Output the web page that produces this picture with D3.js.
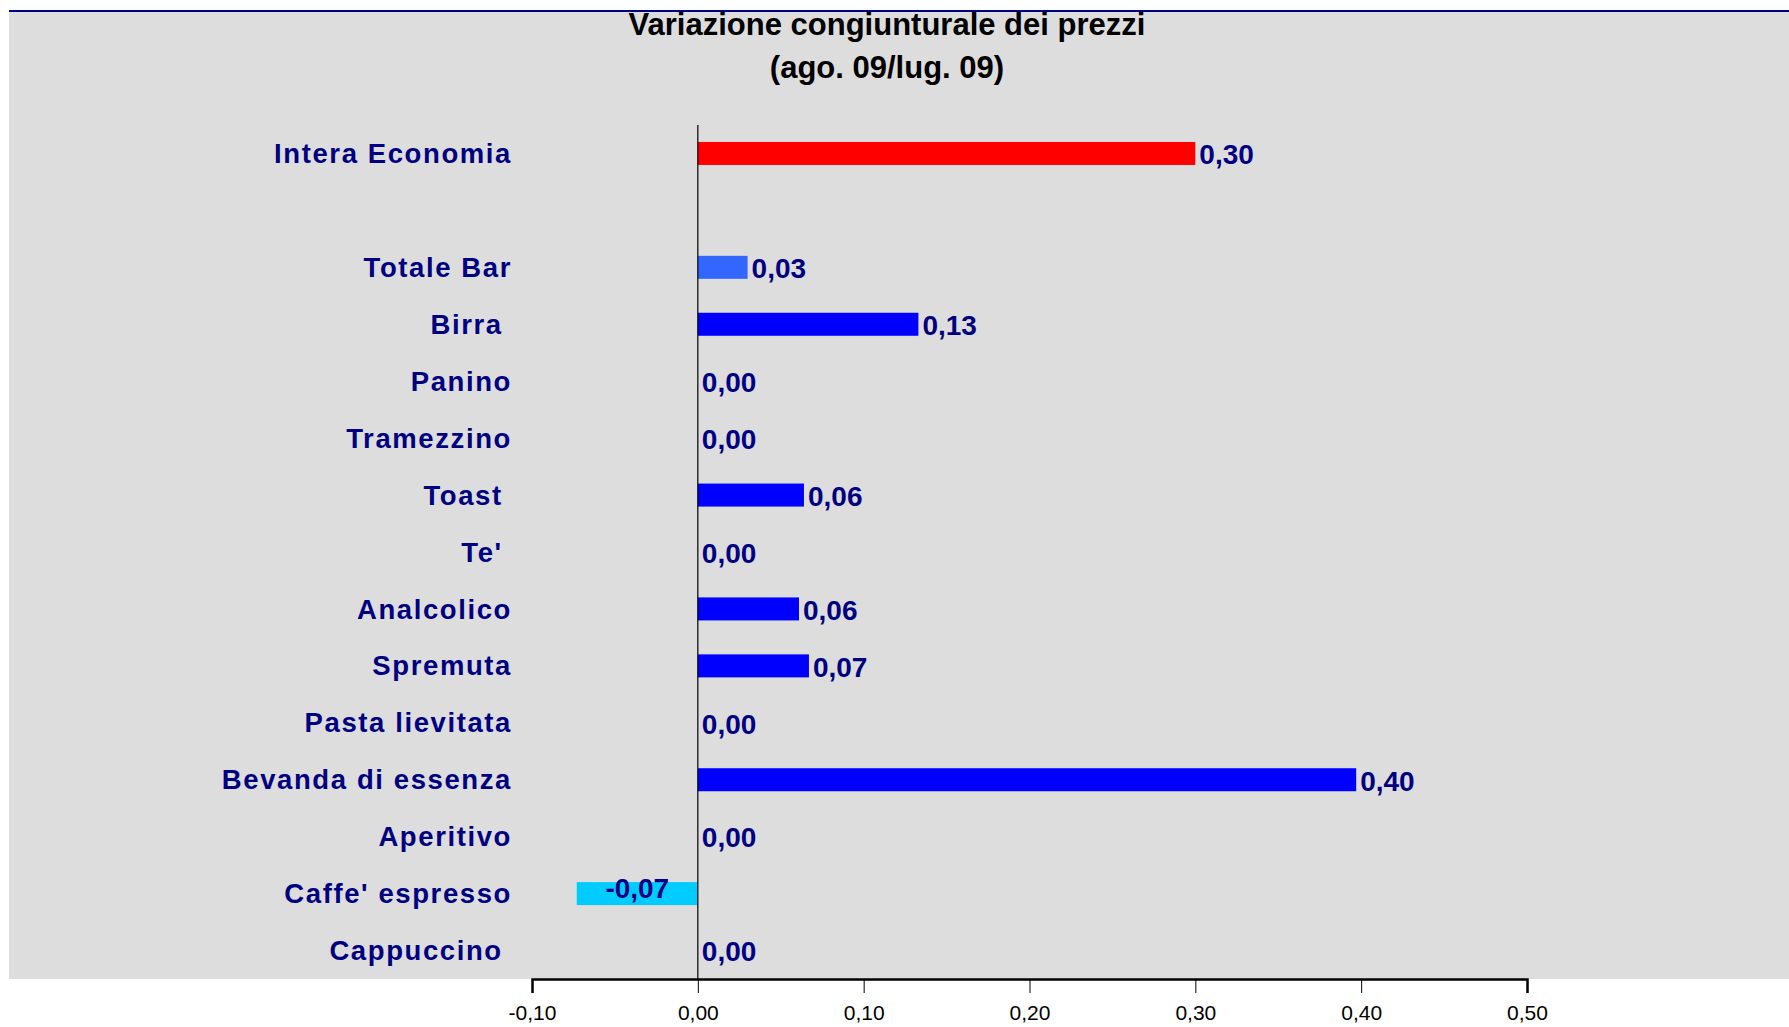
<!DOCTYPE html>
<html lang="it">
<head>
<meta charset="UTF-8">
<title>Variazione congiunturale dei prezzi</title>
<style>
  body { margin: 0; background: #fff; }
  svg { display: block; font-family: "Liberation Sans", Arial, sans-serif; }
  .cat { fill: #000080; font-weight: bold; font-size: 27.5px; letter-spacing: 1.6px; white-space: pre; }
  .val { fill: #000080; font-weight: bold; font-size: 28px; }
  .title { fill: #000; font-weight: bold; font-size: 31px; }
  .axis text { font-family: "Liberation Sans", Arial, sans-serif; font-size: 21px; fill: #000; }
</style>
</head>
<body>
<svg width="1789" height="1027"></svg>
<script src="https://d3js.org/d3.v7.min.js"></script>
<script>
// categories from top to bottom ("" is the empty slot under Intera Economia)
const categories = ["Intera Economia", "", "Totale Bar", "Birra ", "Panino", "Tramezzino", "Toast ",
  "Te' ", "Analcolico", "Spremuta", "Pasta lievitata", "Bevanda di essenza", "Aperitivo",
  "Caffe' espresso", "Cappuccino "];
const values = [0.30, null, 0.03, 0.133, 0, 0, 0.064, 0, 0.061, 0.067, 0, 0.397, 0, -0.073, 0];
const barColors = ["#ff0000", null, "#3366ff", "#0000ff", "#0000ff", "#0000ff", "#0000ff",
  "#0000ff", "#0000ff", "#0000ff", "#0000ff", "#0000ff", "#0000ff", "#00ccff", "#0000ff"];
const xTicks = [-0.1, 0, 0.1, 0.2, 0.3, 0.4, 0.5];
const titleLines = ["Variazione congiunturale dei prezzi", "(ago. 09/lug. 09)"];

const svg = d3.select("svg");
const fmt = v => d3.format(".2f")(v).replace(".", ",").replace("−", "-");

const x = d3.scaleLinear().domain([-0.1, 0.5]).range([532, 1527]);
const y = d3.scaleBand().domain(d3.range(categories.length)).range([125, 979]).paddingInner(0).paddingOuter(0);
const barH = 23;

// background
svg.append("rect").attr("x", 9).attr("y", 11).attr("width", 1780).attr("height", 968).attr("fill", "#dddddd");

// title
svg.selectAll(".title").data(titleLines).enter().append("text")
  .attr("class", "title")
  .attr("x", 887)
  .attr("y", (d, i) => 35 + i * 43)
  .attr("text-anchor", "middle")
  .text(d => d);

svg.append("line").attr("x1", 9).attr("x2", 1789).attr("y1", 11).attr("y2", 11)
  .attr("stroke", "#000080").attr("stroke-width", 2);

const rows = categories.map((c, i) => ({ cat: c, v: values[i], color: barColors[i], i }));

// category labels
svg.selectAll(".cat").data(rows.filter(d => d.cat !== "")).enter().append("text")
  .attr("class", "cat")
  .attr("x", 512)
  .attr("y", d => y(d.i) + y.bandwidth() / 2)
  .attr("dy", "0.35em")
  .attr("text-anchor", "end")
  .text(d => d.cat);

// bars
const withVal = rows.filter(d => d.v !== null);
svg.selectAll(".bar").data(withVal.filter(d => d.v !== 0)).enter().append("rect")
  .attr("class", "bar")
  .attr("x", d => x(Math.min(0, d.v)))
  .attr("y", d => y(d.i) + (y.bandwidth() - barH) / 2)
  .attr("width", d => Math.abs(x(d.v) - x(0)))
  .attr("height", barH)
  .attr("fill", d => d.color);

// zero line
svg.append("line").attr("x1", x(0)).attr("x2", x(0)).attr("y1", 125).attr("y2", 979)
  .attr("stroke", "#000").attr("stroke-width", 1.2);

// value labels
svg.selectAll(".val").data(withVal).enter().append("text")
  .attr("class", "val")
  .attr("x", d => d.v < 0 ? (x(d.v) + x(0)) / 2 : x(d.v) + 4)
  .attr("y", d => y(d.i) + y.bandwidth() / 2 + (d.v < 0 ? -5 : 1))
  .attr("dy", "0.35em")
  .attr("text-anchor", d => d.v < 0 ? "middle" : "start")
  .text(d => fmt(d.v));

// x axis
const axis = svg.append("g").attr("class", "axis").attr("transform", "translate(0,979)")
  .call(d3.axisBottom(x).tickValues(xTicks).tickSize(14).tickPadding(12).tickFormat(fmt));
axis.select(".domain").attr("stroke-width", 2.5);
axis.selectAll(".tick line").attr("stroke-width", 1);
</script>
</body>
</html>
